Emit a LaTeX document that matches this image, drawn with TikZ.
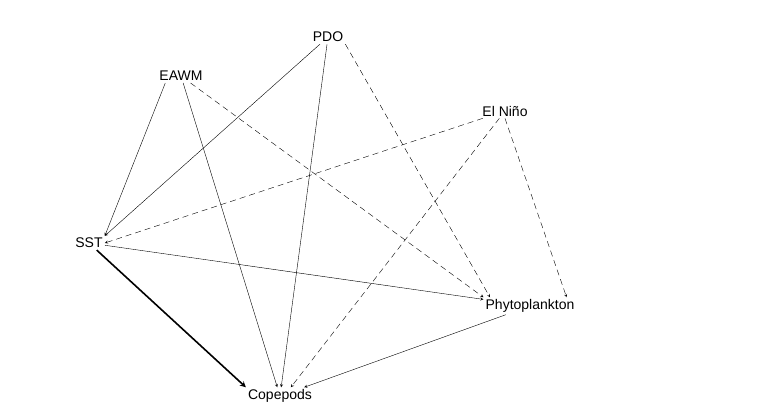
\documentclass[tikz,border=0pt]{standalone}
\usepackage{fontspec}
\setmainfont{Liberation Sans}
\begin{document}
\begin{tikzpicture}[x=1pt,y=-1pt,
  lbl/.style={font=\fontsize{14}{16}\selectfont, inner sep=2pt},
  sl/.style={-stealth, thin},
  dl/.style={-stealth, thin, dashed, dash pattern=on 6pt off 4pt}]
\useasboundingbox (0,0) rectangle (779,415);
\node[lbl] (pdo) at (328,37) {PDO};
\node[lbl] (eawm) at (181,76) {EAWM};
\node[lbl] (nino) at (505,111) {El Niño};
\node[lbl] (sst) at (89,243) {SST};
\node[lbl] (phy) at (530,306) {Phytoplankton};
\node[lbl] (cop) at (280,396) {Copepods};
\draw[sl] (eawm.south west)+(8,0) -- (sst.north east);
\draw[sl] (eawm) -- (cop);
\draw[sl] (pdo) -- (sst.north east);
\draw[sl] (pdo) -- (cop);
\draw[sl] (sst) -- (phy);
\draw[sl] (phy) -- (cop);
\draw[-stealth, line width=1.6pt] (sst) -- (cop.north west);
\draw[dl] (eawm) -- (phy.north west);
\draw[dl] (pdo.south east) -- ([xshift=-40pt]phy.north);
\draw[dl] (nino) -- (sst.east);
\draw[dl] (nino) -- ([xshift=45pt]cop.north west);
\draw[dl] (nino.south) -- ([xshift=-10pt]phy.north east);
\end{tikzpicture}
\end{document}
